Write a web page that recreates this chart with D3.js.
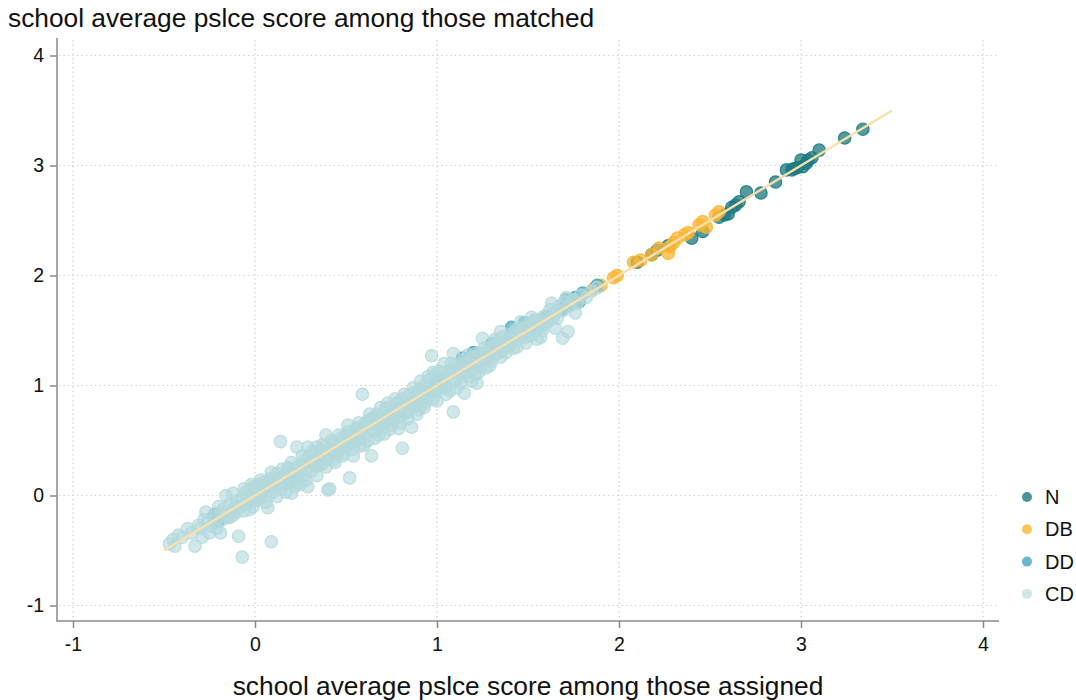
<!DOCTYPE html>
<html>
<head>
<meta charset="utf-8">
<script src="https://cdn.jsdelivr.net/npm/d3@7"></script>
<style>
  html, body { margin: 0; padding: 0; background: #fff; }
  svg { display: block; font-family: "Liberation Sans", Arial, sans-serif; }
</style>
</head>
<body>
<svg id="chart" width="1076" height="700"></svg>
<script>
// School average PSLCE score: assigned (x) vs matched (y), by group

const xTicks = [-1, 0, 1, 2, 3, 4];
const yTicks = [-1, 0, 1, 2, 3, 4];
const groups = ["N", "DB", "DD", "CD"];
const fitLine = [[-0.5, -0.5], [3.5, 3.5]];

const pointsN = [
  [2.10,2.12],[2.18,2.19],[2.21,2.23],[2.27,2.27],[2.40,2.34],[2.46,2.40],[2.55,2.53],
  [2.58,2.55],[2.60,2.56],[2.62,2.62],[2.64,2.64],[2.66,2.67],[2.70,2.76],[2.78,2.75],
  [2.86,2.85],[2.92,2.96],[2.95,2.96],[2.96,2.97],[2.98,2.98],[3.00,3.05],[3.01,2.99],
  [3.03,3.02],[3.04,3.05],[3.06,3.07],[3.10,3.14],[3.24,3.25],[3.34,3.33]
];

const pointsDB = [
  [1.86,1.88],[1.90,1.91],[1.97,1.98],[1.99,2.00],[2.08,2.12],[2.12,2.14],[2.18,2.19],
  [2.22,2.25],[2.27,2.20],[2.28,2.26],[2.30,2.30],[2.32,2.34],[2.36,2.37],[2.38,2.39],
  [2.44,2.46],[2.46,2.49],[2.48,2.44],[2.53,2.55],[2.55,2.58]
];

const pointsDD = [
  [-0.22,-0.17],[-0.20,-0.23],[0.20,0.13],[0.65,0.70],[1.00,1.05],[1.14,1.25],[1.20,1.30],
  [1.30,1.38],[1.41,1.53],[1.48,1.57],[1.55,1.52],[1.60,1.62],[1.68,1.69],[1.71,1.78],
  [1.72,1.73],[1.76,1.80],[1.78,1.76],[1.80,1.84],[1.88,1.91]
];

const pointsCD = [
  [-0.47,-0.44],[-0.45,-0.40],[-0.44,-0.46],[-0.42,-0.36],[-0.40,-0.38],[-0.37,-0.30],
  [-0.35,-0.34],[-0.33,-0.46],[-0.31,-0.27],[-0.30,-0.30],[-0.29,-0.38],[-0.27,-0.15],
  [-0.26,-0.24],[-0.25,-0.34],[-0.24,-0.28],[-0.23,-0.19],[-0.22,-0.24],[-0.21,-0.30],
  [-0.19,-0.16],[-0.19,-0.34],[-0.18,-0.22],[-0.17,-0.12],[-0.16,0.00],[-0.15,-0.20],
  [-0.14,-0.08],[-0.13,-0.15],[-0.12,0.02],[-0.11,-0.10],[-0.10,-0.05],[-0.09,-0.37],
  [-0.08,-0.10],[-0.07,-0.56],[-0.07,-0.02],[-0.06,-0.14],[-0.05,0.03],[-0.04,-0.07],
  [-0.03,0.05],[-0.03,-0.13],[-0.02,-0.01],[-0.01,0.08],[0.00,-0.05],[0.01,-0.04],
  [0.02,0.10],[0.03,0.14],[0.03,0.00],[0.04,-0.01],[0.05,0.06],[0.06,-0.06],[0.07,-0.11],
  [0.08,0.08],[0.09,0.21],[0.09,-0.42],[0.10,0.03],[0.11,0.12],[0.12,-0.01],[0.13,0.15],
  [0.14,0.49],[0.14,0.06],[0.15,0.10],[0.16,0.18],[0.17,0.03],[0.18,0.25],[0.19,0.12],
  [0.20,0.02],[0.21,0.20],[0.22,0.15],[0.23,0.44],[0.23,0.26],[0.24,0.20],[0.25,0.10],
  [0.26,0.28],[0.27,0.18],[0.28,0.24],[0.29,0.44],[0.29,0.08],[0.30,0.30],[0.31,0.22],
  [0.32,0.36],[0.33,0.27],[0.34,0.18],[0.35,0.34],[0.36,0.40],[0.37,0.29],[0.38,0.44],
  [0.39,0.55],[0.40,0.05],[0.40,0.33],[0.41,0.06],[0.41,0.42],[0.42,0.37],[0.43,0.48],
  [0.44,0.30],[0.45,0.45],[0.46,0.40],[0.47,0.52],[0.48,0.36],[0.49,0.50],[0.50,0.44],
  [0.51,0.58],[0.52,0.16],[0.52,0.47],[0.53,0.55],[0.54,0.42],[0.55,0.60],[0.56,0.50],
  [0.57,0.56],[0.58,0.45],[0.59,0.92],[0.59,0.62],[0.60,0.54],[0.61,0.66],[0.62,0.50],
  [0.63,0.60],[0.64,0.36],[0.64,0.70],[0.65,0.58],[0.66,0.64],[0.67,0.74],[0.68,0.55],
  [0.69,0.68],[0.70,0.62],[0.71,0.76],[0.72,0.66],[0.73,0.72],[0.74,0.60],[0.75,0.80],
  [0.76,0.70],[0.77,0.74],[0.78,0.84],[0.79,0.61],[0.79,0.78],[0.80,0.72],[0.81,0.43],
  [0.81,0.88],[0.82,0.76],[0.83,0.82],[0.84,0.70],[0.85,0.92],[0.86,0.62],[0.86,0.85],
  [0.87,0.80],[0.88,0.94],[0.89,0.86],[0.90,0.78],[0.91,0.96],[0.92,0.90],[0.93,1.00],
  [0.94,0.85],[0.95,1.08],[0.96,0.92],[0.97,1.27],[0.97,1.02],[0.98,0.88],[0.99,1.10],
  [1.00,0.96],[1.01,1.04],[1.02,0.98],[1.03,1.12],[1.04,1.20],[1.05,1.00],[1.06,1.08],
  [1.07,0.95],[1.08,1.14],[1.09,1.29],[1.09,0.76],[1.10,1.05],[1.11,1.16],[1.12,1.10],
  [1.13,1.02],[1.14,1.20],[1.15,0.93],[1.15,1.12],[1.16,1.24],[1.17,1.08],[1.18,1.18],
  [1.19,1.14],[1.20,1.26],[1.21,1.10],[1.22,1.02],[1.22,1.22],[1.23,1.30],[1.24,1.18],
  [1.25,1.43],[1.26,1.24],[1.27,1.16],[1.28,1.32],[1.29,1.26],[1.30,1.22],[1.31,1.36],
  [1.32,1.28],[1.33,1.29],[1.34,1.38],[1.35,1.49],[1.36,1.32],[1.37,1.35],[1.38,1.42],
  [1.39,1.36],[1.40,1.46],[1.41,1.38],[1.42,1.44],[1.43,1.50],[1.44,1.35],[1.45,1.47],
  [1.46,1.58],[1.47,1.44],[1.48,1.52],[1.49,1.39],[1.50,1.50],[1.51,1.56],[1.52,1.46],
  [1.53,1.54],[1.54,1.60],[1.55,1.50],[1.56,1.58],[1.57,1.44],[1.58,1.62],[1.59,1.55],
  [1.60,1.64],[1.61,1.58],[1.62,1.69],[1.63,1.75],[1.64,1.62],[1.65,1.66],[1.66,1.61],
  [1.67,1.72],[1.69,1.43],[1.69,1.68],[1.70,1.76],[1.71,1.80],[1.72,1.49],[1.73,1.72],
  [1.75,1.78],[1.76,1.66],[1.77,1.75],[1.79,1.82],[1.82,1.80],[1.85,1.86],[1.88,1.89],
  [0.30,0.36],[0.33,0.40],[0.35,0.27],[0.38,0.35],[0.42,0.50],[0.44,0.38],[0.47,0.43],
  [0.50,0.55],[0.53,0.48],[0.56,0.62],[0.58,0.52],[0.62,0.68],[0.65,0.66],[0.68,0.72],
  [0.70,0.70],[0.72,0.80],[0.74,0.68],[0.76,0.78],[0.78,0.72],[0.80,0.86],[0.83,0.75],
  [0.85,0.82],[0.88,0.84],[0.90,0.94],[0.92,0.82],[0.94,0.98],[0.96,1.05],[0.99,0.94],
  [1.01,1.13],[1.04,0.98],[1.07,1.12],[1.10,1.18],[1.13,1.16],[1.17,1.20],[1.20,1.15],
  [1.24,1.28],[1.27,1.30],[1.30,1.34],[1.33,1.40],[1.36,1.44],[1.40,1.40],[1.44,1.46],
  [1.47,1.50],[1.50,1.46],[1.53,1.58],[1.57,1.55],[1.60,1.58],[0.05,0.12],[0.00,0.04],
  [-0.02,0.10],[0.07,0.00],[0.12,0.08],[0.16,0.10],[0.19,0.25],[0.22,0.08],[0.25,0.22],
  [0.27,0.32],[-0.10,-0.15],[-0.14,-0.20],[-0.05,-0.08],[0.10,0.16],[0.18,0.16],
  [0.31,0.40],[0.34,0.44],[0.37,0.46],[0.39,0.26],[0.43,0.32],[0.46,0.55],[0.49,0.38],
  [0.51,0.64],[0.54,0.36],[0.57,0.66],[0.60,0.46],[0.63,0.74],[0.66,0.52],[0.69,0.80],
  [0.71,0.56],[0.73,0.84],[0.75,0.64],[0.77,0.88],[0.80,0.66],[0.82,0.92],[0.84,0.76],
  [0.87,0.98],[0.89,0.74],[0.91,1.04],[0.93,0.80],[0.95,0.90],[0.98,1.12],[1.00,0.86],
  [1.03,1.05],[1.05,0.92],[1.08,1.20],[1.11,0.98],[1.14,1.08],[1.17,1.28],[1.19,1.04],
  [1.23,1.12],[1.26,1.34],[1.29,1.18],[1.32,1.42],[1.35,1.26],[1.38,1.30],[1.42,1.34],
  [1.45,1.52],[1.49,1.44],[1.52,1.62],[1.55,1.42],[1.58,1.50],[1.62,1.60],[1.65,1.52],
  [0.20,0.30],[0.24,0.12],[0.26,0.36],[0.28,0.14],[0.15,0.24],[0.12,0.20],[0.08,0.15],
  [0.04,0.08],[-0.01,-0.10],[-0.06,0.06],[-0.12,-0.18],[-0.20,-0.10],[-0.28,-0.22]
];

const groupColors = { N: "#1b7a7f", DB: "#fbb533", DD: "#44a6c1", CD: "#b3d9dc" };
const groupFillOpacity = { N: 0.75, DB: 0.75, DD: 0.7, CD: 0.6 };
const groupData = { N: pointsN, DB: pointsDB, DD: pointsDD, CD: pointsCD };

const svg = d3.select("#chart");

const x = d3.scaleLinear().domain([-1, 4]).range([73, 983]);
const y = d3.scaleLinear().domain([-1, 4]).range([605.5, 55.5]);

const plotLeft = 57, plotRight = 999, plotTop = 40, plotBottom = 621;

// dotted grid
const grid = svg.append("g").attr("stroke", "#c9c9c9").attr("stroke-width", 1.2)
  .attr("stroke-dasharray", "1.2,3.3");
grid.selectAll(".gy").data(yTicks).join("line")
  .attr("x1", plotLeft + 2).attr("x2", plotRight)
  .attr("y1", d => y(d)).attr("y2", d => y(d));
grid.selectAll(".gx").data(xTicks).join("line")
  .attr("y1", plotTop).attr("y2", plotBottom - 2)
  .attr("x1", d => x(d)).attr("x2", d => x(d));

// axes
const axisColor = "#8a8a8a";
const tickFmt = d => String(d);
const yAxis = svg.append("g").attr("transform", `translate(${plotLeft},0)`)
  .call(d3.axisLeft(y).tickValues(yTicks).tickSize(7).tickPadding(6).tickFormat(tickFmt));
const xAxis = svg.append("g").attr("transform", `translate(0,${plotBottom})`)
  .call(d3.axisBottom(x).tickValues(xTicks).tickSize(7).tickPadding(9).tickFormat(tickFmt));
[yAxis, xAxis].forEach(a => {
  a.select(".domain").remove();
  a.selectAll(".tick line").attr("stroke", axisColor).attr("stroke-width", 1.5);
  a.selectAll(".tick text").attr("fill", "#111").style("font-size", "19.5px")
    .style("font-family", "'Liberation Sans', Arial, sans-serif");
});
svg.append("line").attr("x1", plotLeft).attr("x2", plotLeft)
  .attr("y1", plotTop - 2).attr("y2", plotBottom + 0.75)
  .attr("stroke", axisColor).attr("stroke-width", 1.5);
svg.append("line").attr("x1", plotLeft).attr("x2", plotRight)
  .attr("y1", plotBottom).attr("y2", plotBottom)
  .attr("stroke", axisColor).attr("stroke-width", 1.5);

// points, drawn group by group
const r = 6.2;
groups.forEach(g => {
  svg.append("g").selectAll("circle").data(groupData[g]).join("circle")
    .attr("cx", d => x(d[0])).attr("cy", d => y(d[1])).attr("r", r)
    .attr("fill", groupColors[g]).attr("fill-opacity", groupFillOpacity[g])
    .attr("stroke", groupColors[g]).attr("stroke-opacity", 0.85).attr("stroke-width", 1.2);
});

// fitted line
svg.append("path").datum(fitLine)
  .attr("d", d3.line().x(d => x(d[0])).y(d => y(d[1])))
  .attr("stroke", "#fadfae").attr("stroke-width", 2.4).attr("fill", "none");

// legend
const legend = svg.append("g");
groups.forEach((g, i) => {
  const ly = 497 + i * 32.3;
  legend.append("circle").attr("cx", 1027).attr("cy", ly).attr("r", 5)
    .attr("fill", groupColors[g]).attr("fill-opacity", g === "CD" ? 0.65 : 0.8);
  legend.append("text").attr("x", 1045).attr("y", ly + 7).text(g)
    .attr("fill", "#111").style("font-size", "20px");
});

// titles
svg.append("text").attr("x", 8).attr("y", 27)
  .text("school average pslce score among those matched")
  .attr("fill", "#111").style("font-size", "26.3px");
svg.append("text").attr("x", 528).attr("y", 695).attr("text-anchor", "middle")
  .text("school average pslce score among those assigned")
  .attr("fill", "#111").style("font-size", "26.3px");
</script>
</body>
</html>
